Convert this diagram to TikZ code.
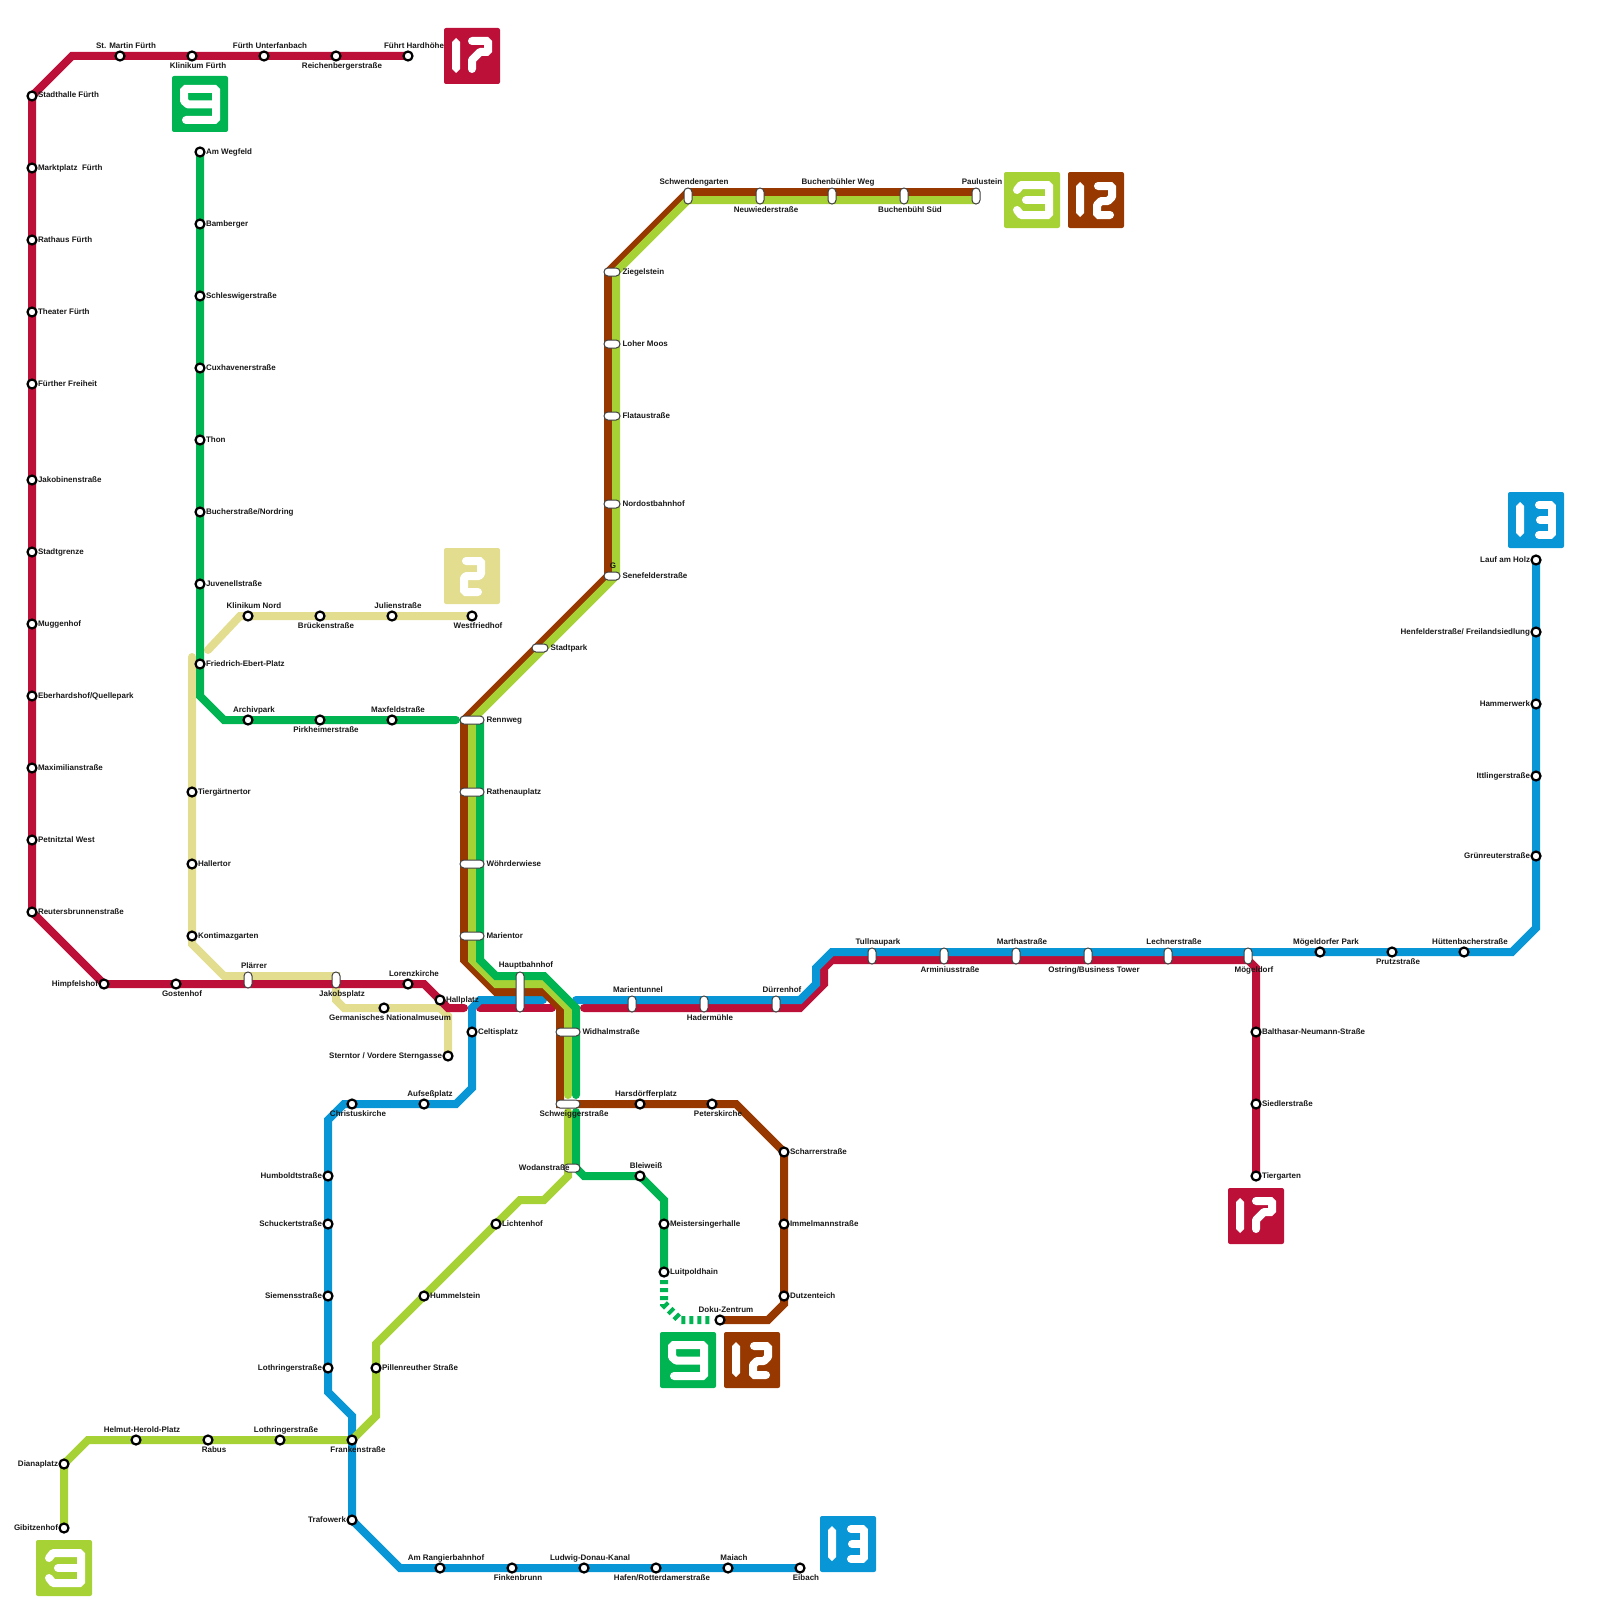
\documentclass[tikz,border=0pt]{standalone}
\usepackage{fontspec}
\setmainfont{Liberation Sans}
\usepackage{tikz}
\usetikzlibrary{positioning}
\usetikzlibrary{backgrounds}
\definecolor{redColor}{HTML}{BD1038}
\definecolor{greenColor}{HTML}{00B451}
\definecolor{blueColor}{HTML}{0896D7}
\definecolor{brownColor}{HTML}{963800}
\definecolor{limeColor}{HTML}{A6D235}
\definecolor{sandColor}{HTML}{E3DD90}
\tikzset{
	route/.style={line width=8pt, line cap=round},
	stn/.style={circle, draw=black, fill=white, line width=2.2pt, inner sep=0pt, minimum size=9pt},
	capsule/.style={rectangle, draw=black!75, fill=white, line width=1pt, inner sep=0pt, rounded corners=3.9pt},
	capV/.style={capsule, minimum width=8pt, minimum height=16pt},
	capH/.style={capsule, minimum width=24pt, minimum height=8pt},
	capS/.style={capsule, minimum width=16pt, minimum height=8pt},
	capL/.style={capsule, minimum width=8pt, minimum height=40pt},
	lbl/.style={font=\bfseries\fontsize{8}{9}\selectfont, text=black!90, inner sep=0pt, outer sep=0pt, text height=6pt, text depth=2pt},
	iconbox/.style={rectangle, anchor=north west, minimum size=56pt, inner sep=0pt, outer sep=0pt, rounded corners=2pt},
	glyph/.style={draw=white, line width=8pt, line cap=round, line join=bevel},
}
\newcommand{\glyphOne}{\fill[white] (8,14) -- (12,10) -- (16,14) -- (16,41) -- (12,45) -- (8,41) -- cycle;}
\newcommand{\glyphNine}{\draw[glyph] (14,44) -- (44,44) -- (44,13) -- (12,13) -- (12,25) -- (16,28.5) -- (44,28.5);}
\newcommand{\glyphSevenTeen}{\glyphOne \draw[glyph] (28,13) -- (44,13) -- (44,24) -- (36,24) -- (28,32) -- (28,41);}
\newcommand{\glyphTwelve}{\glyphOne \draw[glyph] (30,14) -- (44,14) -- (44,25) -- (40,29) -- (33,29) -- (29,33) -- (29,43) -- (42,43);}
\newcommand{\glyphThirteen}{\glyphOne \draw[glyph] (31,13) -- (44,13) -- (44,43) -- (31,43); \draw[glyph] (32,28) -- (44,28);}
\newcommand{\glyphTwo}{\draw[glyph] (22,13) -- (37,13) -- (37,26) -- (35,28) -- (22,28) -- (20,30) -- (20,44) -- (34,44);}
\newcommand{\glyphThree}{\draw[glyph] (13,18) -- (17,13) -- (45,13) -- (45,43) -- (17,43) -- (13,38); \draw[glyph] (22,28) -- (45,28);}
\newcommand{\routeicon}[5]{
	\node[iconbox, fill=#4] (#1) at (#2,#3) {};
	\begin{scope}[shift={(#2,#3)}] #5 \end{scope}
}
\begin{document}
\begin{tikzpicture}[x=1pt, y=-1pt]
	\useasboundingbox (0,0) rectangle (1600,1600);
	% stations, by side of the label
	\foreach \n/\x/\y/\t in {stadthalle/32/96/Stadthalle Fürth, marktplatz/32/168/Marktplatz\ \ Fürth, rathaus/32/240/Rathaus Fürth, theater/32/312/Theater Fürth, freiheit/32/384/Fürther Freiheit, jakobinen/32/480/Jakobinenstraße, stadtgrenze/32/552/Stadtgrenze, muggenhof/32/624/Muggenhof, eberhardshof/32/696/{Eberhardshof/Quellepark}, maximilian/32/768/Maximilianstraße, petnitztal/32/840/Petnitztal West, reuters/32/912/Reutersbrunnenstraße,
		wegfeld/200/152/Am Wegfeld, bamberger/200/224/Bamberger, schleswig/200/296/Schleswigerstraße, cuxhaven/200/368/Cuxhavenerstraße, thon/200/440/Thon, bucher/200/512/{Bucherstraße/Nordring}, juvenell/200/584/Juvenellstraße, ebert/200/664/Friedrich-Ebert-Platz,
		tiergaertner/192/792/Tiergärtnertor, hallertor/192/864/Hallertor, kontimaz/192/936/Kontimazgarten, hallplatz/440/1000/Hallplatz, celtis/472/1032/Celtisplatz,
		balthasar/1256/1032/Balthasar-Neumann-Straße, siedler/1256/1104/Siedlerstraße, tiergarten/1256/1176/Tiergarten, scharrer/784/1152/Scharrerstraße, immelmann/784/1224/Immelmannstraße, dutzen/784/1296/Dutzenteich, meistersinger/664/1224/Meistersingerhalle, luitpold/664/1272/Luitpoldhain, lichtenhof/496/1224/Lichtenhof, hummelstein/424/1296/Hummelstein, pillenreuth/376/1368/Pillenreuther Straße}
		{\node[stn] (\n) at (\x,\y) {}; \node[lbl, right=0.4pt of \n] (\n lbl) {\t};}
	\foreach \n/\x/\y/\t in {lauf/1536/560/Lauf am Holz, henfelder/1536/632/{Henfelderstraße/ Freilandsiedlung}, hammerwerk/1536/704/Hammerwerk, ittlinger/1536/776/Ittlingerstraße, gruenreuter/1536/856/Grünreuterstraße, himpfelshof/104/984/Himpfelshof, sterntor/448/1056/{Sterntor / Vordere Sterngasse}, humboldt/328/1176/Humboldtstraße, schuckert/328/1224/Schuckertstraße, siemens/328/1296/Siemensstraße, lothringera/328/1368/Lothringerstraße, trafowerk/352/1520/Trafowerk, dianaplatz/64/1464/Dianaplatz, gibitzenhof/64/1528/Gibitzenhof}
		{\node[stn] (\n) at (\x,\y) {}; \node[lbl, left=0.4pt of \n] (\n lbl) {\t};}
	\foreach \n/\x/\y/\t in {stmartin/120/56/St. Martin Fürth, unterfanbach/264/56/Fürth Unterfanbach, hardhoehe/408/56/Führt Hardhöhe, klinikumnord/248/616/Klinikum Nord, julien/392/616/Julienstraße, archivpark/248/720/Archivpark, maxfeld/392/720/Maxfeldstraße, lorenz/408/984/Lorenzkirche, aufsess/424/1104/Aufseßplatz, bleiweiss/640/1176/Bleiweiß, harsdoerffer/640/1104/Harsdörfferplatz, doku/720/1320/Doku-Zentrum, helmut/136/1440/Helmut-Herold-Platz, lothringerb/280/1440/Lothringerstraße, rangier/440/1568/Am Rangierbahnhof, donau/584/1568/Ludwig-Donau-Kanal, maiach/728/1568/Maiach, moegelpark/1320/952/Mögeldorfer Park, huetten/1464/952/Hüttenbacherstraße}
		{\node[stn] (\n) at (\x,\y) {}; \node[lbl, above=0pt of \n, xshift=6pt] (\n lbl) {\t};}
	\foreach \n/\x/\y/\t in {klinikumfue/192/56/Klinikum Fürth, reichenberger/336/56/Reichenbergerstraße, bruecken/320/616/Brückenstraße, westfriedhof/472/616/Westfriedhof, pirkheimer/320/720/Pirkheimerstraße, gostenhof/176/984/Gostenhof, germanisches/384/1008/Germanisches Nationalmuseum, christus/352/1104/Christuskirche, peterskirche/712/1104/Peterskirche, rabus/208/1440/Rabus, franken/352/1440/Frankenstraße, finkenbrunn/512/1568/Finkenbrunn, hafen/656/1568/{Hafen/Rotterdamerstraße}, eibach/800/1568/Eibach, prutz/1392/952/Prutzstraße}
		{\node[stn] (\n) at (\x,\y) {}; \node[lbl, below=1pt of \n, xshift=6pt] (\n lbl) {\t};}
	% shared stops
	\foreach \n/\x/\y/\t in {tullnau/872/956/Tullnaupark, martha/1016/956/Marthastraße, lechner/1168/956/Lechnerstraße, schwenden/688/196/Schwendengarten, buchweg/832/196/Buchenbühler Weg, paulustein/976/196/Paulustein, plaerrer/248/980/Plärrer, marientunnel/632/1004/Marientunnel, duerrenhof/776/1004/Dürrenhof}
		{\node[capV] (\n) at (\x,\y) {}; \node[lbl, above=1.5pt of \n, xshift=6pt] (\n lbl) {\t};}
	\foreach \n/\x/\y/\t in {arminius/944/956/Arminiusstraße, ostring/1088/956/{Ostring/Business Tower}, moegeldorf/1248/956/Mögeldorf, neuwieder/760/196/Neuwiederstraße, buchsued/904/196/Buchenbühl Süd, jakobsplatz/336/980/Jakobsplatz, hadermuehle/704/1004/Hadermühle}
		{\node[capV] (\n) at (\x,\y) {}; \node[lbl, below=2pt of \n, xshift=6pt] (\n lbl) {\t};}
	\foreach \n/\x/\y/\t in {rennweg/472/720/Rennweg, rathenau/472/792/Rathenauplatz, woehrd/472/864/Wöhrderwiese, marientor/472/936/Marientor, widhalm/568/1032/Widhalmstraße}
		{\node[capH] (\n) at (\x,\y) {}; \node[lbl, right=2pt of \n] (\n lbl) {\t};}
	\foreach \n/\x/\y/\t in {ziegelstein/612/272/Ziegelstein, lohermoos/612/344/Loher Moos, flatau/612/416/Flataustraße, nordost/612/504/Nordostbahnhof, senefelder/612/576/Senefelderstraße, stadtpark/540/648/Stadtpark}
		{\node[capS] (\n) at (\x,\y) {}; \node[lbl, right=2pt of \n] (\n lbl) {\t};}
	\node[capL] (hbf) at (520,992) {};
	\node[lbl, above=2pt of hbf, xshift=6pt] (hbf lbl) {Hauptbahnhof};
	\node[capH] (schweigger) at (568,1104) {};
	\node[lbl, below=2pt of schweigger, xshift=6pt] (schweigger lbl) {Schweiggerstraße};
	\node[capS] (wodan) at (572,1168) {};
	\node[lbl, left=-6pt of wodan] (wodan lbl) {Wodanstraße};
	\node[lbl, above=1.5pt of senefelder, xshift=1pt] (senefelder g) {G};
	% bends
	\foreach \n/\x/\y in {ra/72/56, rb/424/984, rc/448/1008, rd/464/1008, re/480/1008, rf/552/1008, rg/584/1008, rh/800/1008, ri/824/984, rj/824/968, rk/832/960, rl/1248/960, rm/1256/968,
		ba/1536/928, bb/1512/952, bc/832/952, bd/816/968, be/816/984, bf/800/1000, bg/576/1000, bh/543/1000, bi/480/1000, bj/472/1008, bk/472/1088, bl/456/1104, bm/344/1104, bn/328/1120, bo/328/1392, bp/352/1416, bq/400/1568,
		ga/200/696, gb/224/720, gc/456/720, gd/480/720, ge/480/960, gf/496/976, gg/544/976, gh/576/1008, gi/576/1095, gj/576/1112, gk/576/1168, gl/584/1176, gm/664/1200, gn/664/1304, go/680/1320,
		la/976/200, lb/688/200, lc/616/272, ld/616/576, le/472/720, lf/472/960, lg/496/984, lh/544/984, li/568/1008, lj/568/1095, lk/568/1112, ll/568/1176, lm/544/1200, ln/520/1200, lo/376/1344, lp/376/1416, lq/88/1440,
		ma/976/192, mb/688/192, mc/608/272, md/608/576, me/464/720, mf/464/960, mg/496/992, mh/544/992, mi/560/1008, mj/560/1104, mk/736/1104, ml/784/1304, mm/768/1320,
		sa/208/650, sb/240/616, sc/192/657, sd/192/944, se/224/976, sf/336/976, sg/336/1000, sh/344/1008, si/440/1008, sj/448/1016}
		\coordinate (\n) at (\x,\y);
	% lines
	\begin{pgfonlayer}{background}
		\draw[route, sandColor] (sa) -- (sb) -- (westfriedhof.center);
		\draw[route, sandColor] (sc) -- (sd) -- (se) -- (sf) -- (sg) -- (sh) -- (si) -- (sj) -- (sterntor.center);
		\draw[route, redColor] (hardhoehe.center) -- (ra) -- (stadthalle.center) -- (reuters.center) -- (himpfelshof.center) -- (rb) -- (rc) -- (rd);
		\draw[route, redColor] (re) -- (rf);
		\draw[route, redColor] (rg) -- (rh) -- (ri) -- (rj) -- (rk) -- (rl) -- (rm) -- (tiergarten.center);
		\draw[route, blueColor] (lauf.center) -- (ba) -- (bb) -- (bc) -- (bd) -- (be) -- (bf) -- (bg);
		\draw[route, blueColor] (bh) -- (bi) -- (bj) -- (bk) -- (bl) -- (bm) -- (bn) -- (bo) -- (bp) -- (trafowerk.center) -- (bq) -- (eibach.center);
		\draw[route, brownColor] (ma) -- (mb) -- (mc) -- (md) -- (me) -- (mf) -- (mg) -- (mh) -- (mi) -- (mj) -- (mk) -- (scharrer.center) -- (ml) -- (mm) -- (doku.center);
		\draw[route, limeColor] (la) -- (lb) -- (lc) -- (ld) -- (le) -- (lf) -- (lg) -- (lh) -- (li) -- (lj);
		\draw[route, limeColor] (lk) -- (ll) -- (lm) -- (ln) -- (lo) -- (lp) -- (franken.center) -- (lq) -- (dianaplatz.center) -- (gibitzenhof.center);
		\draw[route, greenColor] (wegfeld.center) -- (ga) -- (gb) -- (gc);
		\draw[route, greenColor] (gd) -- (ge) -- (gf) -- (gg) -- (gh) -- (gi);
		\draw[route, greenColor] (gj) -- (gk) -- (gl) -- (bleiweiss.center) -- (gm) -- (luitpold.center);
		\draw[greenColor, line width=8pt, dash pattern=on 4pt off 4pt, shorten >=9pt] (luitpold.center) -- (gn) -- (go) -- (doku.center);
	\end{pgfonlayer}
	% line badges
	\routeicon{iconA}{444}{28}{redColor}{\glyphSevenTeen}
	\routeicon{iconB}{172}{76}{greenColor}{\glyphNine}
	\routeicon{iconC}{444}{548}{sandColor}{\glyphTwo}
	\routeicon{iconD}{1004}{172}{limeColor}{\glyphThree}
	\routeicon{iconE}{1068}{172}{brownColor}{\glyphTwelve}
	\routeicon{iconF}{1508}{492}{blueColor}{\glyphThirteen}
	\routeicon{iconG}{1228}{1188}{redColor}{\glyphSevenTeen}
	\routeicon{iconH}{660}{1332}{greenColor}{\glyphNine}
	\routeicon{iconI}{724}{1332}{brownColor}{\glyphTwelve}
	\routeicon{iconJ}{820}{1516}{blueColor}{\glyphThirteen}
	\routeicon{iconK}{36}{1540}{limeColor}{\glyphThree}
\end{tikzpicture}
\end{document}
